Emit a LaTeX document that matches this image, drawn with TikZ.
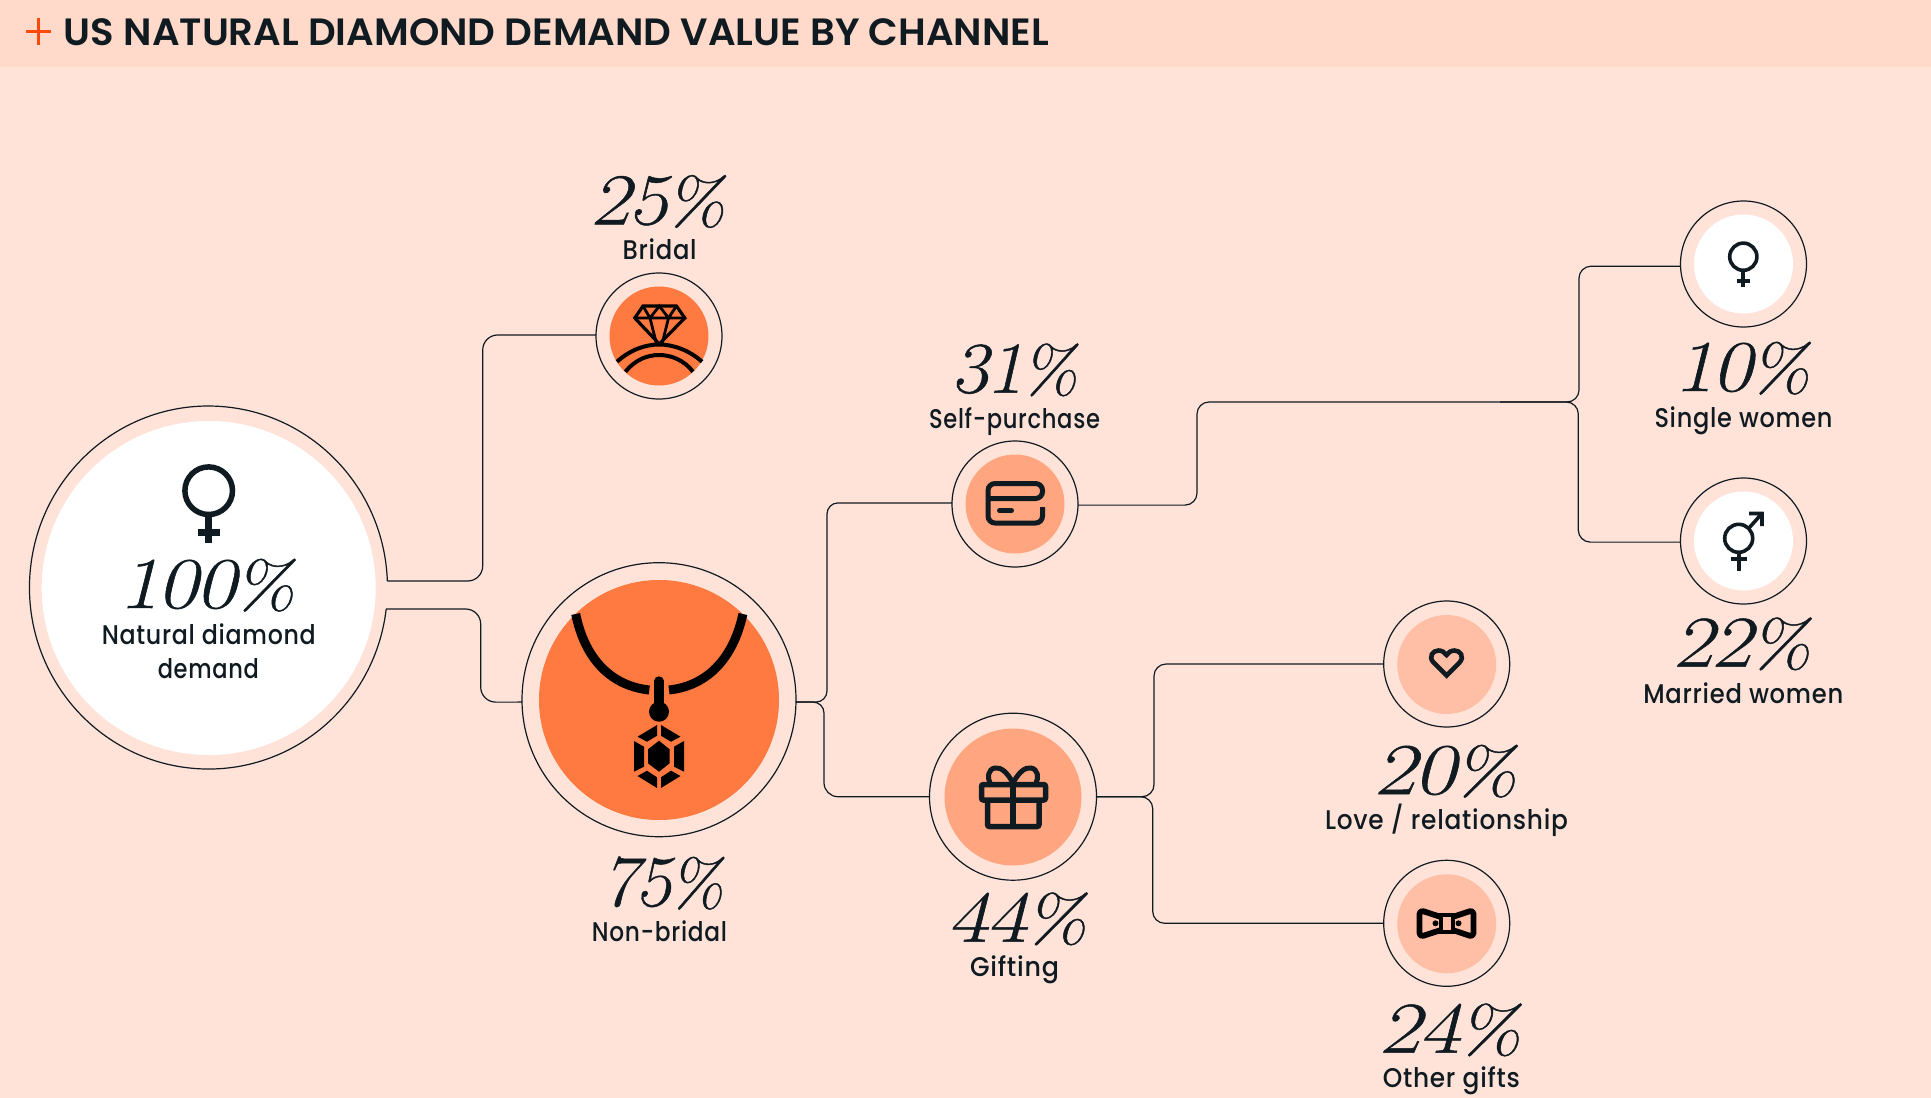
\documentclass[tikz,border=0pt]{standalone}
\usepackage{graphicx}
\usepackage{fontspec}
\newfontfamily\jost[LetterSpace=3]{Poppins Medium}
\newfontfamily\jostb{Poppins SemiBold}
\newfontfamily\didone[FakeSlant=0.22,FakeBold=0.7]{Latin Modern Roman}
\definecolor{bgc}{HTML}{FFE3D9}
\definecolor{headc}{HTML}{FFD9CA}
\definecolor{ink}{HTML}{101A21}
\definecolor{plusc}{HTML}{FF4A0A}
\definecolor{orangeA}{HTML}{FF7A40}
\definecolor{orangeB}{HTML}{FFA680}
\definecolor{orangeC}{HTML}{FFBFA6}
\newcommand{\pct}[2]{\resizebox{#1pt}{\height}{\fontsize{73}{80}\selectfont\didone #2\scalebox{0.9}{\%}}}
\newcommand{\lab}[2]{\resizebox{#1pt}{\height}{\fontsize{27}{32}\selectfont\jost #2}}
\tikzset{
  x=1pt,y=-1pt,
  conn/.style={draw=ink,line width=1.2pt},
  ring/.style={circle,draw=ink,line width=1.2pt,inner sep=0pt,outer sep=0pt,minimum size=126pt},
  bigring/.style={ring,minimum size=274pt},
  midring/.style={ring,minimum size=167pt},
  disc/.style={circle,draw=none,inner sep=0pt,outer sep=0pt,minimum size=99pt},
  txt/.style={anchor=base,inner sep=0pt,outer sep=0pt,text=ink},
  icon/.style={draw=ink,line width=5pt},
}
\begin{document}
\begin{tikzpicture}
\useasboundingbox (0,0) rectangle (1931,1098);
\fill[bgc] (0,0) rectangle (1931,1098);
\fill[headc] (0,0) rectangle (1931,67);
% header
\draw[plusc,line width=3.2pt] (26,31.5) -- (51,31.5) (38.5,18) -- (38.5,45);
\node[txt] (title) at (556.5,45) {\resizebox{985pt}{\height}{\fontsize{38}{44}\selectfont\jostb US NATURAL DIAMOND DEMAND VALUE BY CHANNEL}};

% circles
\draw[ink,line width=1.2pt] (386.2,609) arc[start angle=6.8,end angle=357.95,x radius=179,y radius=181.5];
\coordinate (mainA) at (387.4,581);
\coordinate (mainB) at (386.2,609);
\node[disc,fill=white,minimum size=334pt] (main) at (208.7,588) {};
\node[ring] (bridal) at (659,336) {};
\node[disc,fill=orangeA] (bridalD) at (659,336) {};
\node[bigring] (nonbridal) at (659,699.7) {};
\node[disc,fill=orangeA,minimum size=240pt] (nonbridalD) at (659,700) {};
\node[ring] (self) at (1015,504) {};
\node[disc,fill=orangeB] (selfD) at (1015,504) {};
\node[midring] (gift) at (1013,796.7) {};
\node[disc,fill=orangeB,minimum size=137pt] (giftD) at (1013,797) {};
\node[ring] (love) at (1446.7,664) {};
\node[disc,fill=orangeC] (loveD) at (1446.7,664.5) {};
\node[ring] (other) at (1446.7,923.3) {};
\node[disc,fill=orangeC] (otherD) at (1446.7,923.8) {};
\node[ring] (single) at (1743.5,264) {};
\node[disc,fill=white] (singleD) at (1743.5,264) {};
\node[ring] (married) at (1743.5,541) {};
\node[disc,fill=white] (marriedD) at (1743.5,541) {};

% connectors
\draw[conn,rounded corners=15pt] (mainA) -- (482.7,581) -- (482.7,335) -- (bridal.179);
\draw[conn,rounded corners=15pt] (mainB) -- (480.7,609) -- (480.7,702.1) -- (nonbridal.181);
\draw[conn,rounded corners=11pt] (nonbridal.-1) -- (827,702) -- (827,502.9) -- (self.179);
\draw[conn,rounded corners=11pt] (nonbridal.-1) -- (824,702) [rounded corners=14pt] -- (824,796.7) -- (gift.west);
\draw[conn,rounded corners=12pt] (gift.east) -- (1154,796.7) -- (1154,664) -- (love.west);
\draw[conn,rounded corners=12pt] (gift.east) -- (1152.7,796.7) -- (1152.7,923.3) -- (other.west);
\coordinate (selfTurn) at (1500,402);
\draw[conn,rounded corners=12pt] (self.-1) -- (1197,505.1) -- (1197,402) -- (selfTurn) -- (1579,402) -- (1579,266.2) -- (single.182);
\draw[conn,rounded corners=12pt] (selfTurn) -- (1578.3,402) -- (1578.3,542.1) -- (married.181);

% venus main
\draw[ink,line width=5.5pt] (208.7,490.7) circle[radius=23.8];
\draw[ink,line width=7pt] (208.7,516) -- (208.7,542.7) (197.7,532.7) -- (220,532.7);
% venus small
\draw[ink,line width=3.6pt] (1743.3,256.7) circle[radius=13.6];
\draw[ink,line width=4pt] (1743.3,272) -- (1743.3,286.7) (1737,280.7) -- (1750,280.7);
% married symbol
\draw[ink,line width=3.6pt] (1738.7,538.3) circle[radius=14];
\draw[ink,line width=4pt] (1738.7,554) -- (1738.7,571) (1730.7,559) -- (1747.3,559);
\draw[ink,line width=3.6pt] (1748.5,528.5) -- (1762,513.5) (1749,513.5) -- (1763.7,513.5) (1762,512) -- (1762,526);

% gem ring
\draw[black,line width=3.2pt,line join=miter] (634.8,318) -- (643,306) -- (676.4,306) -- (684.8,318) -- (659.3,344) -- cycle;
\draw[black,line width=2.8pt] (635,318) -- (685,318) (643,306) -- (650,318) -- (659.3,306) -- (668.5,318) -- (676.4,306) (650,318) -- (656.5,344) (668.5,318) -- (662,344);
\draw[black,line width=4pt] (617,361.7) .. controls (630,350) and (645,344.5) .. (659,344.5) .. controls (673,344.5) and (689,350) .. (702,361.7);
\draw[black,line width=4pt] (625.4,371.7) .. controls (635,360) and (647,355) .. (659,355) .. controls (671,355) and (684,360) .. (693,371.7);

% necklace
\draw[black,line width=9pt] (575.7,614) .. controls (585,660) and (612,686) .. (649.3,690);
\draw[black,line width=9pt] (742.9,614) .. controls (733,660) and (706,686) .. (669,690);
\draw[black,line width=9.3pt,line cap=round] (659,681) -- (659,710);
\fill[black] (659,711.7) circle[radius=10];
\fill[black] (659,740.7) -- (669.6,749.3) -- (669.6,763.3) -- (659,771.7) -- (648,763.3) -- (648,749.3) -- cycle;
\fill[black] (637.5,736.7) -- (657,725) -- (657,735.7) -- (647,741.7) -- cycle;
\fill[black] (680.5,736.7) -- (661,725) -- (661,735.7) -- (671,741.7) -- cycle;
\fill[black] (634,741) -- (644,746.7) -- (644,766.7) -- (634,771.7) -- cycle;
\fill[black] (684,741) -- (674,746.7) -- (674,766.7) -- (684,771.7) -- cycle;
\fill[black] (637.5,776) -- (647,770.7) -- (657,777.3) -- (657,788) -- cycle;
\fill[black] (680.5,776) -- (671,770.7) -- (661,777.3) -- (661,788) -- cycle;

% card
\draw[icon,rounded corners=7pt] (1042.5,507) -- (1042.5,523) -- (988,523) -- (988,483.5) -- (1042.5,483.5) -- (1042.5,498.5) -- (988,498.5);
\draw[icon,line cap=round] (999.5,510.7) -- (1011.5,510.7);

% gift
\draw[icon,line width=5.5pt,rounded corners=2pt] (981.5,784.5) rectangle (1045.5,800);
\draw[icon,line width=5.5pt,rounded corners=2pt] (987.5,800) -- (987.5,826.5) -- (1039,826.5) -- (1039,800);
\draw[icon,line width=5.5pt] (1013,784) -- (1013,826);
\draw[icon,line cap=round] (1013,783) .. controls (1007,772) and (1001,767) .. (995,768) .. controls (988,769) and (987,778) .. (990,783);
\draw[icon,line cap=round] (1013,783) .. controls (1019,772) and (1025,767) .. (1031,768) .. controls (1038,769) and (1039,778) .. (1036,783);

% heart
\draw[draw=ink,line width=4.6pt,line join=miter] (1446.5,675.5) -- (1433.5,662.5) .. controls (1428,656.5) and (1433,650.5) .. (1438.5,650.5) .. controls (1442,650.5) and (1445,652.5) .. (1446.5,655) .. controls (1448,652.5) and (1451,650.5) .. (1454.5,650.5) .. controls (1460,650.5) and (1465,656.5) .. (1459.5,662.5) -- cycle;

% bow tie
\draw[black,line width=5.8pt,rounded corners=4pt,line join=round] (1441,917) -- (1419.5,910) -- (1419.5,937) -- (1441,930);
\draw[black,line width=5.8pt,rounded corners=4pt,line join=round] (1452.5,917) -- (1473.5,910) -- (1473.5,937) -- (1452.5,930);
\draw[black,line width=4pt] (1441,914.5) rectangle (1452.5,932);
\fill[black] (1435.5,923.3) circle[radius=3];
\fill[black] (1458.5,923.3) circle[radius=3];

% labels
\node[txt] (p100) at (206.5,608) {\pct{173}{100}};
\node[txt] (l100a) at (208.8,644) {\lab{214}{Natural diamond}};
\node[txt] (l100b) at (208.3,678.7) {\lab{101}{demand}};
\node[txt] (p25) at (657.5,224.3) {\pct{132}{25}};
\node[txt] (l25) at (659.6,259.3) {\lab{74}{Bridal}};
\node[txt] (p31) at (1014,392.7) {\pct{124}{31}};
\node[txt] (l31) at (1014.5,428) {\lab{171}{Self-purchase}};
\node[txt] (p75) at (662,906) {\pct{120}{75}};
\node[txt] (l75) at (659.4,941) {\lab{135}{Non-bridal}};
\node[txt] (p44) at (1016.5,941.7) {\pct{137}{44}};
\node[txt] (l44) at (1014.5,976) {\lab{89}{Gifting}};
\node[txt] (p10) at (1741.7,391) {\pct{133}{10}};
\node[txt] (l10) at (1743.5,427) {\lab{178}{Single women}};
\node[txt] (p22) at (1741.5,666.7) {\pct{135}{22}};
\node[txt] (l22) at (1743.3,703) {\lab{200}{Married women}};
\node[txt] (p20) at (1445,794) {\pct{140}{20}};
\node[txt] (l20) at (1446.5,829.3) {\lab{243}{Love / relationship}};
\node[txt] (p24) at (1449.5,1052.7) {\pct{139}{24}};
\node[txt] (l24) at (1451.3,1087.7) {\lab{137}{Other gifts}};
\end{tikzpicture}
\end{document}
